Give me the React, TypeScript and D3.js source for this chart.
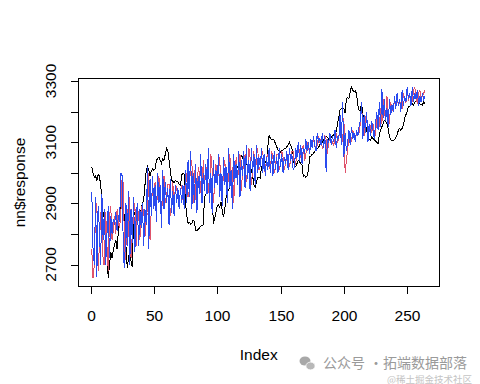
import React from "react";
import * as d3 from "d3";

// observed response (black)
const response = [
  3020, 3000, 2985, 2990, 2975, 2995, 2990, 2960, 2921, 2856,
  2880, 2790, 2737, 2655, 2700, 2740, 2720, 2747, 2765, 2780,
  2750, 2810, 2868, 2900, 2911, 2889, 2840, 2760, 2688, 2720,
  2745, 2710, 2692, 2856, 2870, 2860, 2865, 2850, 2860, 2880,
  2900, 2911, 2960, 3009, 3020, 3010, 2990, 3005, 3012, 3008,
  3012, 3041, 3045, 3052, 3040, 3031, 3045, 3040, 3060, 3080,
  3075, 3040, 3009, 2976, 2972, 2968, 2975, 2972, 2970, 2962,
  2958, 2992, 3000, 2995, 2900, 2860, 2834, 2838, 2832, 2834,
  2845, 2840, 2812, 2810, 2815, 2820, 2825, 2828, 2830, 2921,
  2930, 2938, 2940, 2936, 2938, 2927, 2834, 2850, 2870, 2890,
  2895, 2888, 2905, 2875, 2856, 2880, 2920, 2936, 2945, 2954,
  2990, 3000, 3020, 3018, 3022, 3020, 3010, 3052, 3057, 3050,
  3040, 3025, 3030, 3020, 3028, 3015, 3010, 2990, 2960, 2954,
  2970, 2983, 2985, 2983, 3020, 3015, 3030, 3035, 3041, 3085,
  3123, 3112, 3108, 3110, 3107, 3095, 3085, 3074, 3072, 3068,
  3072, 3074, 3080, 3078, 3085, 3091, 3100, 3090, 3080, 3058,
  3020, 3020, 3030, 3041, 3035, 3030, 3025, 2987, 2990, 2985,
  2990, 3009, 3052, 3055, 3060, 3063, 3070, 3078, 3080, 3082,
  3091, 3095, 3100, 3107, 3112, 3118, 3116, 3110, 3118, 3115,
  3120, 3125, 3134, 3136, 3160, 3180, 3205, 3210, 3208, 3210,
  3194, 3243, 3245, 3243, 3265, 3281, 3270, 3265, 3268, 3258,
  3221, 3205, 3205, 3227, 3190, 3180, 3160, 3140, 3112, 3110,
  3107, 3117, 3112, 3108, 3103, 3100, 3096, 3123, 3140, 3150,
  3161, 3172, 3168, 3160, 3145, 3118, 3107, 3104, 3104, 3108,
  3115, 3123, 3139, 3145, 3138, 3145, 3156, 3178, 3190, 3200,
  3216, 3218, 3222, 3227, 3220, 3230, 3235, 3243, 3232, 3225,
  3222, 3221, 3232, 3225,
];

// first prediction (red)
const predRed = [
  2750, 2655, 2700, 2880, 2900, 2680, 2760, 2860, 2900, 2700,
  2700, 2870, 2760, 2680, 2860, 2890, 2780, 2810, 2860, 2800,
  2880, 2830, 2820, 2870, 2990, 2960, 2700, 2760, 2880, 2790,
  2920, 2720, 2800, 2860, 2900, 2760, 2880, 2870, 2780, 2890,
  2840, 2880, 2790, 2850, 2870, 3000, 2780, 2880, 2960, 2900,
  2970, 2870, 2950, 2990, 2910, 2850, 2940, 2990, 2900, 2920,
  2960, 2960, 2860, 2890, 2970, 2880, 2960, 2950, 2920, 2900,
  2940, 2960, 2910, 2900, 2950, 3000, 2920, 2940, 3030, 3040,
  2900, 3010, 2920, 2890, 3020, 3000, 2940, 2920, 3040, 2960,
  3010, 3020, 2950, 2920, 3060, 3010, 2900, 2960, 3030, 2970,
  3000, 3050, 2940, 2910, 3010, 3040, 2970, 2920, 3010, 3060,
  2960, 3020, 2900, 2990, 3050, 2970, 3020, 3060, 2940, 3000,
  3030, 3060, 2970, 2990, 3080, 3050, 2960, 3010, 3070, 2980,
  3050, 3080, 3010, 3020, 3060, 3070, 3010, 3000, 3050, 3060,
  3020, 3010, 3070, 3050, 3000, 3020, 3060, 3060, 3010, 3030,
  3070, 3050, 3010, 3030, 3060, 3060, 3020, 3040, 3070, 3070,
  3020, 3030, 3060, 3090, 3070, 3050, 3080, 3090, 3040, 3060,
  3100, 3080, 3070, 3090, 3100, 3110, 3090, 3080, 3090, 3120,
  3100, 3110, 3080, 3090, 3120, 3110, 3060, 3100, 3120, 3110,
  3100, 3090, 3110, 3130, 3100, 3110, 3160, 3120, 3100, 3180,
  2999, 3040, 3080, 3110, 3130, 3100, 3140, 3120, 3110, 3130,
  3130, 3130, 3160, 3220, 3140, 3120, 3180, 3190, 3110, 3140,
  3150, 3130, 3160, 3130, 3120, 3190, 3150, 3150, 3210, 3160,
  3240, 3190, 3180, 3250, 3200, 3160, 3230, 3210, 3200, 3240,
  3210, 3250, 3220, 3230, 3230, 3210, 3260, 3240, 3230, 3270,
  3240, 3250, 3250, 3230, 3270, 3280, 3240, 3230, 3260, 3270,
  3240, 3250, 3260, 3270,
];

// second prediction (blue)
const predBlue = [
  2938, 2750, 2700, 2920, 2660, 2890, 2820, 2700, 2930, 2780,
  2880, 2700, 2800, 2890, 2720, 2860, 2800, 2850, 2830, 2870,
  2810, 2860, 2840, 2999, 2990, 2720, 2690, 2900, 2760, 2940,
  2700, 2880, 2770, 2920, 2740, 2850, 2900, 2760, 2880, 2820,
  2900, 2760, 2880, 2830, 3020, 2750, 2980, 2860, 2990, 2880,
  2960, 2840, 3000, 2900, 2960, 2820, 3010, 2880, 2970, 2900,
  2950, 2830, 2980, 2870, 2940, 2860, 2960, 2900, 2950, 2880,
  2950, 2900, 2960, 2880, 3010, 2900, 3040, 2920, 3070, 2880,
  3000, 2900, 3030, 2870, 2990, 2930, 3060, 2900, 3000, 2940,
  3030, 2930, 3080, 2900, 3000, 2870, 3040, 2950, 3010, 2960,
  3060, 2920, 3000, 2890, 3050, 2960, 3020, 2900, 3080, 2950,
  3010, 2880, 3060, 2980, 3030, 2960, 3070, 2920, 3040, 2990,
  3070, 2950, 3090, 2980, 3040, 2940, 3080, 3000, 3060, 2960,
  3090, 3000, 3050, 3020, 3080, 3000, 3060, 2990, 3050, 3010,
  3080, 3000, 3060, 2990, 3070, 3010, 3050, 3000, 3080, 3020,
  3060, 3000, 3050, 3030, 3070, 3010, 3080, 3040, 3060, 3010,
  3020, 3080, 3050, 3100, 3040, 3090, 3030, 3080, 3060, 3110,
  3070, 3100, 3060, 3110, 3080, 3120, 3090, 3070, 3130, 3100,
  3110, 3090, 3130, 3080, 3120, 3003, 3110, 3100, 3130, 3090,
  3120, 3100, 3140, 3080, 3120, 3110, 3190, 3090, 3230, 3050,
  3130, 3070, 3100, 3140, 3090, 3150, 3110, 3130, 3100, 3140,
  3120, 3150, 3170, 3231, 3110, 3190, 3130, 3200, 3100, 3160,
  3120, 3170, 3140, 3110, 3160, 3200, 3140, 3230, 3150, 3274,
  3180, 3240, 3170, 3210, 3150, 3240, 3190, 3220, 3200, 3250,
  3210, 3260, 3220, 3240, 3200, 3270, 3220, 3250, 3230, 3280,
  3240, 3260, 3220, 3280, 3230, 3260, 3240, 3270, 3220, 3250,
  3230, 3260, 3240, 3250,
];

const xTicks = [0, 50, 100, 150, 200, 250];
const yTicks = [2700, 2800, 2900, 3000, 3100, 3200, 3300];
const yLabels = [2700, 2900, 3100, 3300];

const FONT = "'Liberation Sans', Arial, Helvetica, sans-serif";
const CJK = "'Noto Sans CJK SC', sans-serif";

export default function App() {
  const x = d3.scaleLinear().domain([0, 250]).range([90.5, 407.2]);
  const y = d3.scaleLinear().domain([2700, 3300]).range([264.5, 81]);
  const line = d3
    .line<number>()
    .x((_, i) => x(i + 1))
    .y((d) => y(d));

  const box = { l: 78.5, r: 439.5, t: 78.5, b: 286.5 };

  return (
    <svg
      width={480}
      height={384}
      style={{ position: "absolute", left: 0, top: 0, background: "#fff" }}
    >
      <rect x={0} y={0} width={480} height={384} fill="#fff" />
      <g shapeRendering="crispEdges" fill="none" strokeWidth={1}>
        <path d={line(response) || ""} stroke="#000" />
        <path d={line(predRed) || ""} stroke="#DF536B" />
        <path d={line(predBlue) || ""} stroke="#2A4BEF" />
      </g>
      <rect
        x={box.l}
        y={box.t}
        width={box.r - box.l}
        height={box.b - box.t}
        fill="none"
        stroke="#000"
        shapeRendering="crispEdges"
      />
      {/* x axis */}
      <g stroke="#000" shapeRendering="crispEdges">
        <line x1={x(0)} x2={x(250)} y1={box.b} y2={box.b} />
        {xTicks.map((t) => (
          <line key={t} x1={Math.round(x(t)) + 0.5} x2={Math.round(x(t)) + 0.5} y1={box.b} y2={box.b + 7.5} />
        ))}
      </g>
      {xTicks.map((t) => (
        <text
          key={t}
          x={Math.round(x(t)) + 0.5}
          y={320.5}
          textAnchor="middle"
          fontFamily={FONT}
          fontSize={15.5}
          fill="#000"
        >
          {t}
        </text>
      ))}
      {/* y axis */}
      <g stroke="#000" shapeRendering="crispEdges">
        <line x1={box.l} x2={box.l} y1={y(2700)} y2={y(3300)} />
        {yTicks.map((t) => (
          <line key={t} x1={box.l - 8} x2={box.l} y1={Math.round(y(t)) + 0.5} y2={Math.round(y(t)) + 0.5} />
        ))}
      </g>
      {yLabels.map((t) => (
        <text
          key={t}
          transform={`translate(56.3,${y(t)}) rotate(-90)`}
          textAnchor="middle"
          fontFamily={FONT}
          fontSize={15.5}
          fill="#000"
        >
          {t}
        </text>
      ))}
      <text
        x={258.7}
        y={360}
        textAnchor="middle"
        fontFamily={FONT}
        fontSize={15.5}
        fill="#000"
      >
        Index
      </text>
      <text
        transform="translate(25,182.5) rotate(-90)"
        textAnchor="middle"
        fontFamily={FONT}
        fontSize={15.5}
        fill="#000"
      >
        nn$response
      </text>
      {/* watermark */}
      <g fill="#a8a8a8">
        <ellipse cx={305} cy={361} rx={5.5} ry={4.6} />
        <ellipse cx={310.5} cy={366} rx={4.6} ry={3.9} fill="#b8b8b8" stroke="#fff" strokeWidth={0.8} />
      </g>
      <text x={323} y={367.5} fontFamily={CJK} fontSize={14} fill="#9a9a9a">
        公众号
      </text>
      <text x={376} y={367.5} fontFamily={CJK} fontSize={14} fill="#9a9a9a" textAnchor="middle">
        ·
      </text>
      <text x={383} y={367.5} fontFamily={CJK} fontSize={14} fill="#9a9a9a">
        拓端数据部落
      </text>
      <text x={387} y={382.5} fontFamily={CJK} fontSize={9.5} fill="#c4c4c4">
        @稀土掘金技术社区
      </text>
    </svg>
  );
}
